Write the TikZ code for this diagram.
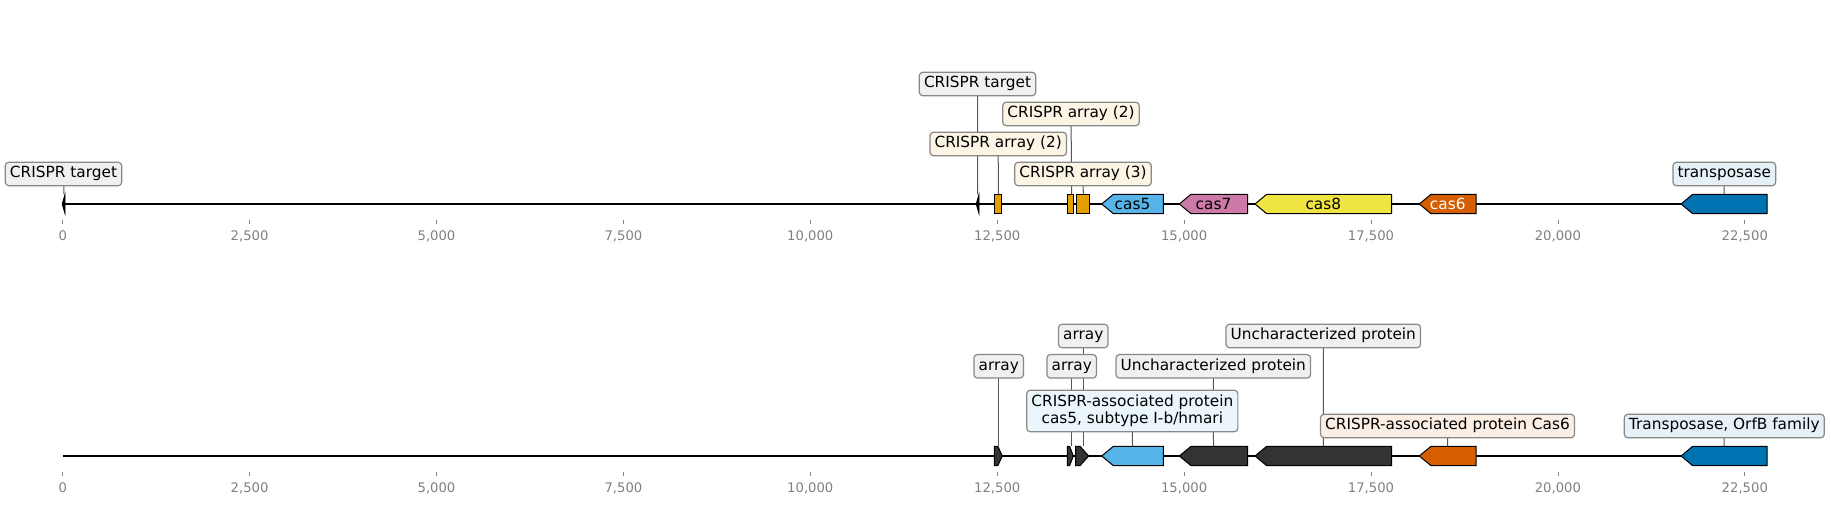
\documentclass[tikz,border=0pt]{standalone}
\usepackage{fontspec}
\setmainfont{DejaVu Sans}
\usetikzlibrary{backgrounds}
\definecolor{corange}{HTML}{E69F00}
\definecolor{csky}{HTML}{56B4E9}
\definecolor{cpink}{HTML}{CC79A7}
\definecolor{cyellow}{HTML}{F0E442}
\definecolor{cverm}{HTML}{D55E00}
\definecolor{cblue}{HTML}{0072B2}
\definecolor{cdark}{HTML}{333333}
\definecolor{lbord}{HTML}{888888}
\definecolor{lead}{HTML}{555555}
\definecolor{tickgray}{HTML}{808080}
\newcommand\lfont{\fontsize{11.5}{13}\selectfont}
\newcommand\tfont{\fontsize{9.9}{12}\selectfont}
\newcommand\geneL[5]{%
  \draw[gene,fill=#5] (#2,#4) -- (#2+11.7,#4-9.7) -- (#3,#4-9.7) -- (#3,#4+9.7) -- (#2+11.7,#4+9.7) -- cycle;
  \coordinate (#1) at ({(#2+#3)/2},#4-9.7);
}
\newcommand\geneR[6]{%
  \draw[gene,fill=cdark] (#2,#5-9.7) -- (#3,#5-9.7) -- (#4,#5) -- (#3,#5+9.7) -- (#2,#5+9.7) -- cycle;
  \coordinate (#1) at (#6,#5-9.7);
}
\newcommand\boxR[4]{%
  \draw[gene,fill=corange] (#2,#4-9.7) rectangle (#3,#4+9.7);
}
\begin{document}
\begin{tikzpicture}[x=0.75pt,y=-0.75pt,
  lab/.style={draw=lbord, line width=0.9pt, rounded corners=2.6pt, font=\lfont, inner xsep=3.5pt, inner ysep=3.2pt, text height=8.6pt, text depth=2.6pt, text=black},
  labtwo/.style={draw=lbord, line width=0.9pt, rounded corners=2.6pt, font=\lfont, inner xsep=3.5pt, inner ysep=3.5pt, align=center, text=black},
  leader/.style={draw=lead, line width=0.75pt},
  gene/.style={draw=black, line width=0.75pt, line join=miter},
  axisline/.style={line width=1.5pt},
  tickmark/.style={draw=tickgray, line width=0.6pt},
  ticklab/.style={text=tickgray, font=\tfont, inner sep=0pt, anchor=base},
  gtext/.style={font=\lfont, inner sep=0pt, anchor=base}]
\useasboundingbox (0,0) rectangle (1831,505);

% ---------- axes ----------
\coordinate (ta) at (63.5,204);
\coordinate (tb) at (1767,204);
\draw[axisline] (ta) -- (tb);
\coordinate (ba) at (62.7,456);
\coordinate (bb) at (1767,456);
\draw[axisline] (ba) -- (bb);
\foreach \k/\t in {0/0,1/{2,500},2/{5,000},3/{7,500},4/{10,000},5/{12,500},6/{15,000},7/{17,500},8/{20,000},9/{22,500}}{
  \draw[tickmark] (62.7+186.9*\k,220) -- (62.7+186.9*\k,224.3);
  \node[ticklab] at (62.7+186.9*\k,240.8) {\t};
  \draw[tickmark] (62.7+186.9*\k,472) -- (62.7+186.9*\k,476.3);
  \node[ticklab] at (62.7+186.9*\k,492.8) {\t};
}

% ---------- top track features ----------
\draw[gene,fill=black,line width=0.6pt] (65,194.3) -- (62.2,204) -- (65,213.7) -- cycle;
\coordinate (ft1) at (64,194.3);
\draw[gene,fill=black,line width=0.6pt] (979,194.3) -- (976.2,204) -- (979,213.7) -- cycle;
\coordinate (ft2) at (977.7,194.3);
\boxR{fa1}{994.3}{1001.7}{204}
\coordinate (fa1) at (998.3,194.3);
\boxR{fa2}{1067.3}{1073.7}{204}
\coordinate (fa2) at (1071.7,194.3);
\boxR{fa3}{1076.3}{1089}{204}
\coordinate (fa3) at (1083.3,194.3);
\geneL{gc5}{1101.7}{1163.3}{204}{csky}
\geneL{gc7}{1179.3}{1247.7}{204}{cpink}
\geneL{gc8}{1255}{1391.7}{204}{cyellow}
\geneL{gc6}{1419.3}{1476}{204}{cverm}
\geneL{gtr}{1681}{1767}{204}{cblue}
\node[gtext] (tc5) at (1132.5,209.8) {cas5};
\node[gtext] (tc7) at (1213.5,209.8) {cas7};
\node[gtext] (tc8) at (1323.3,209.8) {cas8};
\node[gtext,text=white] (tc6) at (1447.7,209.8) {cas6};

% ---------- top labels ----------
\node[lab,fill=black!6] (lt1) at (63.5,174) {CRISPR target};
\node[lab,fill=black!6] (lt2) at (977.5,84) {CRISPR target};
\node[lab,fill=corange!10] (la1) at (998.2,144) {CRISPR array (2)};
\node[lab,fill=corange!10] (la2) at (1071,114) {CRISPR array (2)};
\node[lab,fill=corange!10] (la3) at (1083,174) {CRISPR array (3)};
\node[lab,fill=cblue!10] (ltr) at (1724.3,174) {transposase};

% ---------- bottom track features ----------
\geneR{fb1}{994.3}{997.8}{1002.3}{456}{998.7}
\geneR{fb2}{1067.3}{1069.6}{1073.3}{456}{1071.7}
\geneR{fb3}{1075.7}{1080}{1088.7}{456}{1083.3}
\geneL{hc5}{1101.7}{1163.3}{456}{csky}
\geneL{hu1}{1179.3}{1247.7}{456}{cdark}
\geneL{hu2}{1255}{1391.7}{456}{cdark}
\geneL{hc6}{1419.3}{1476}{456}{cverm}
\geneL{htr}{1681}{1767}{456}{cblue}

% ---------- bottom labels ----------
\node[lab,fill=black!6] (lb1) at (998.7,366.3) {array};
\node[lab,fill=black!6] (lb2) at (1071.7,366.3) {array};
\node[lab,fill=black!6] (lb3) at (1083.3,336) {array};
\node[labtwo,fill=csky!12] (lc5) at (1132.3,411) {CRISPR-associated protein\\cas5, subtype I-b/hmari};
\node[lab,fill=black!6] (lu1) at (1213.3,366.3) {Uncharacterized protein\ };
\node[lab,fill=black!6] (lu2) at (1323.3,336) {Uncharacterized protein\ };
\node[lab,fill=cverm!10] (lc6) at (1447.5,426) {CRISPR-associated protein Cas6};
\node[lab,fill=cblue!10] (lbt) at (1724.3,426) {Transposase, OrfB family\ };

% ---------- leaders ----------
\begin{pgfonlayer}{background}
\draw[leader] (lt1.center) -- (ft1);
\draw[leader] (lt2.center) -- (ft2);
\draw[leader] (la1.center) -- (fa1);
\draw[leader] (la2.center) -- (fa2);
\draw[leader] (la3.center) -- (fa3);
\draw[leader] (ltr.center) -- (gtr);
\draw[leader] (lb1.center) -- (fb1);
\draw[leader] (lb2.center) -- (fb2);
\draw[leader] (lb3.center) -- (fb3);
\draw[leader] (lc5.center) -- (hc5);
\draw[leader] (lu1.center) -- (hu1);
\draw[leader] (lu2.center) -- (hu2);
\draw[leader] (lc6.center) -- (hc6);
\draw[leader] (lbt.center) -- (htr);
\end{pgfonlayer}
\end{tikzpicture}
\end{document}
